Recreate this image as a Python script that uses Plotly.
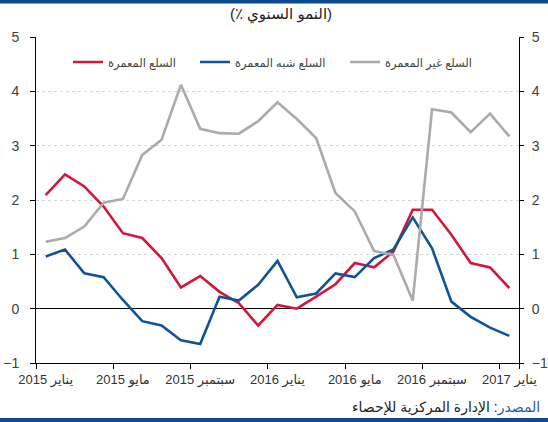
import plotly.graph_objects as go

month_names = ["يناير", "فبراير", "مارس", "أبريل", "مايو", "يونيو",
               "يوليو", "أغسطس", "سبتمبر", "أكتوبر", "نوفمبر", "ديسمبر"]
years = [2015] * 12 + [2016] * 12 + [2017]
months = [month_names[i % 12] + " " + str(y) for i, y in enumerate(years)]

tick_labels = ["يناير 2015", "مايو 2015", "سبتمبر 2015", "يناير 2016",
               "مايو 2016", "سبتمبر 2016", "يناير 2017"]

durable = [2.09, 2.47, 2.25, 1.88, 1.39, 1.30, 0.93, 0.39, 0.60, 0.31, 0.10, -0.31,
           0.07, 0.00, 0.22, 0.45, 0.84, 0.76, 1.05, 1.82, 1.82, 1.36, 0.84, 0.76, 0.38]
semi_durable = [0.96, 1.09, 0.65, 0.58, 0.16, -0.23, -0.31, -0.58, -0.65, 0.22, 0.15, 0.44,
                0.88, 0.21, 0.28, 0.65, 0.58, 0.93, 1.09, 1.68, 1.11, 0.13, -0.15, -0.35, -0.50]
non_durable = [1.23, 1.30, 1.51, 1.95, 2.02, 2.83, 3.11, 4.12, 3.31, 3.23, 3.22, 3.45,
               3.80, 3.49, 3.14, 2.13, 1.79, 1.06, 0.99, 0.15, 3.67, 3.61, 3.25, 3.59, 3.17]

series_names = ["السلع المعمرة", "السلع شبه المعمرة", "السلع غير المعمرة"]
colors = ["#d4163c", "#0f5496", "#ababab"]
legend_ids = ["legend", "legend2", "legend3"]

FONT = "Arial, Liberation Sans, DejaVu Sans, sans-serif"

W, H = 548, 422
L, R, T, B = 36, 29, 37, 59
PW, PH = W - L - R, H - T - B


def px_x(x):
    return (x - L) / PW


def px_y(y):
    return (H - B - y) / PH


fig = go.Figure()
for name, vals, col, lg in zip(series_names, [durable, semi_durable, non_durable], colors, legend_ids):
    fig.add_trace(go.Scatter(x=months, y=vals, name=name, mode="lines", legend=lg,
                             line=dict(color=col, width=2.6)))
# attach the right-hand axis
fig.add_trace(go.Scatter(x=[], y=[], yaxis="y2", showlegend=False, hoverinfo="skip"))

legend_common = dict(orientation="h", xanchor="left", yanchor="middle",
                     font=dict(size=11.5, color="#444444", family=FONT),
                     bgcolor="rgba(0,0,0,0)", itemwidth=30)
legend_x = [68, 195, 345]
layout_legends = {}
for lg, lx in zip(legend_ids, legend_x):
    layout_legends[lg] = dict(legend_common, x=px_x(lx), y=px_y(62))

fig.update_layout(
    width=W, height=H,
    margin=dict(l=L, r=R, t=T, b=B, autoexpand=False),
    paper_bgcolor="white", plot_bgcolor="white",
    font=dict(family=FONT, color="#333333", size=13),
    showlegend=True,
    title=dict(text="\u200f(النمو السنوي ٪)\u200f", x=281 / W, xanchor="center",
               y=1 - 14 / H, yanchor="middle", xref="container", yref="container",
               font=dict(size=15, color="#222222", family=FONT)),
    xaxis=dict(type="category", tickmode="array", tickvals=tick_labels, ticktext=tick_labels,
               tickson="boundaries", ticks="outside", ticklen=5, tickcolor="black",
               showline=True, linecolor="black", linewidth=1, showgrid=False,
               zeroline=False, range=[-0.5, 24.5], tickangle=0, automargin=False,
               ticklabelstandoff=4, tickfont=dict(size=13, color="#333333")),
    yaxis=dict(range=[-1, 5], dtick=1, tick0=0, showgrid=True, gridcolor="#d6d6d6",
               griddash="dot", gridwidth=1, zeroline=True, zerolinecolor="black",
               zerolinewidth=1, showline=True, linecolor="black", linewidth=1,
               ticks="outside", ticklen=5, tickcolor="black", automargin=False,
               tickfont=dict(size=14, color="#404040"), ticklabelstandoff=8),
    yaxis2=dict(range=[-1, 5], dtick=1, tick0=0, overlaying="y", side="right",
                showgrid=False, zeroline=False, showline=True, linecolor="black",
                linewidth=1, ticks="outside", ticklen=4, tickcolor="black", automargin=False,
                tickfont=dict(size=14, color="#404040"), ticklabelstandoff=5),
    **layout_legends,
)

# decorative bars (top and bottom)
fig.add_shape(type="rect", xref="paper", yref="paper",
              x0=px_x(0), x1=px_x(W), y0=px_y(3.5), y1=px_y(0),
              fillcolor="#0a4a8c", line=dict(width=0), layer="above")
fig.add_shape(type="rect", xref="paper", yref="paper",
              x0=px_x(0), x1=px_x(W), y0=px_y(422), y1=px_y(418),
              fillcolor="#0a4a8c", line=dict(width=0), layer="above")

fig.add_annotation(xref="paper", yref="paper", x=px_x(542), y=px_y(407),
                   xanchor="right", yanchor="middle", showarrow=False,
                   text="<span style='color:#1f5fa8'>المصدر</span>: الإدارة المركزية للإحصاء",
                   font=dict(size=14, color="#222222", family=FONT))

fig.write_html("out.html", config={"displayModeBar": False, "staticPlot": True},
               post_script="document.body.style.margin='0px';document.body.style.padding='0px';"
                           "document.body.style.overflow='hidden';")
